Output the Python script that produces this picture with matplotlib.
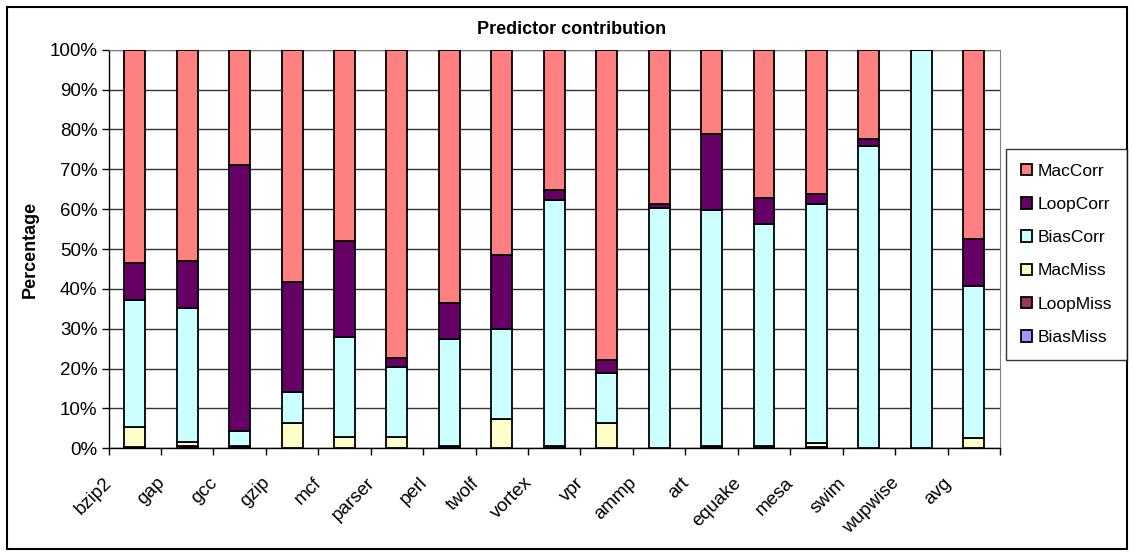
import numpy as np
import matplotlib.pyplot as plt
import matplotlib.transforms as mtransforms
from matplotlib.patches import Rectangle

plt.rcParams['font.family'] = ['Liberation Sans', 'DejaVu Sans']

# data (percent of predictions, stacked bottom -> top)
benchmarks = ['bzip2', 'gap', 'gcc', 'gzip', 'mcf', 'parser', 'perl', 'twolf', 'vortex',
              'vpr', 'ammp', 'art', 'equake', 'mesa', 'swim', 'wupwise', 'avg']
bias_miss = [0, 0, 0, 0, 0, 0, 0, 0, 0, 0, 0, 0, 0, 0, 0, 0, 0]
loop_miss = [0.3, 0.7, 0.5, 0.2, 0.2, 0.2, 0.5, 0.2, 0.5, 0.2, 0.0, 0.5, 0.5, 0.3, 0.0, 0.0, 0.2]
mac_miss = [5.1, 0.8, 0.1, 6.2, 2.7, 2.7, 0.0, 7.2, 0.0, 6.2, 0.0, 0.0, 0.0, 1.1, 0.0, 0.0, 2.3]
bias_corr = [31.8, 33.8, 3.7, 7.8, 24.9, 17.6, 26.9, 22.5, 61.7, 12.6, 60.2, 59.3, 55.8, 59.9, 75.9, 100.0, 38.2]
loop_corr = [9.2, 11.8, 66.8, 27.6, 24.2, 2.1, 9.0, 18.6, 2.6, 3.2, 1.1, 19.1, 6.6, 2.4, 1.6, 0.0, 11.8]
mac_corr = [53.6, 52.9, 28.9, 58.2, 48.0, 77.4, 63.6, 51.5, 35.2, 77.8, 38.7, 21.1, 37.1, 36.3, 22.5, 0.0, 47.5]

series = [
    ('BiasMiss', bias_miss, '#9999FF'),
    ('LoopMiss', loop_miss, '#993366'),
    ('MacMiss', mac_miss, '#FFFFCC'),
    ('BiasCorr', bias_corr, '#CCFFFF'),
    ('LoopCorr', loop_corr, '#660066'),
    ('MacCorr', mac_corr, '#FF8080'),
]

fig = plt.figure(figsize=(11.34, 5.56), dpi=100)
ax = fig.add_axes([0.0957, 0.1937, 0.7861, 0.7169])

x = np.arange(len(benchmarks))
bottom = np.zeros(len(benchmarks))
handles = []
for name, vals, col in series:
    vals = np.array(vals)
    b = ax.bar(x, vals, width=0.4, bottom=bottom, color=col, edgecolor='black',
               linewidth=1.3, label=name, zorder=3)
    handles.append(b)
    bottom += vals

ax.set_xlim(-0.5, len(benchmarks) - 0.5)
ax.set_ylim(0, 100)
ax.set_yticks(np.arange(0, 101, 10))
ax.set_yticklabels([f'{v}%' for v in range(0, 101, 10)], fontsize=13.5)
ax.yaxis.grid(True, color='#333333', linewidth=1, zorder=0)
ax.tick_params(axis='y', direction='out', length=5, width=1, pad=3)

# categories labelled at centres, tick marks between them
ax.set_xticks(x)
ax.set_xticklabels(benchmarks, fontsize=13.5, rotation=45, ha='right',
                   va='center', rotation_mode='anchor')
ax.tick_params(axis='x', which='major', length=0, pad=0)
ax.set_xticks(np.arange(-0.5, len(benchmarks), 1), minor=True)
ax.tick_params(axis='x', which='minor', direction='out', length=5, width=1)
offset = mtransforms.ScaledTranslation(-0.25, -0.32, fig.dpi_scale_trans)
for lab in ax.get_xticklabels():
    lab.set_transform(lab.get_transform() + offset)

for side in ['top', 'right']:
    ax.spines[side].set_color('#808080')
for side in ['left', 'bottom']:
    ax.spines[side].set_color('black')
    ax.spines[side].set_linewidth(1)

fig.text(0.504, 0.947, 'Predictor contribution', ha='center', va='center',
         fontsize=13, fontweight='bold')
fig.text(0.027, 0.552, 'Percentage', ha='center', va='center', rotation=90,
         fontsize=13, fontweight='bold')

leg = fig.legend(handles[::-1], [s[0] for s in series][::-1], loc='upper left',
                 bbox_to_anchor=(0.887, 0.732), fontsize=12.5, frameon=True,
                 fancybox=False, edgecolor='black', handlelength=0.65,
                 handleheight=0.65, handletextpad=0.35, labelspacing=1.05,
                 borderpad=0.85, borderaxespad=0)
leg.get_frame().set_linewidth(1)

fig.patches.append(Rectangle((7 / 1134, 7 / 556), 1120 / 1134, 542 / 556,
                             transform=fig.transFigure, fill=False,
                             edgecolor='black', linewidth=1.5))

fig.savefig('out.png', dpi=100)
